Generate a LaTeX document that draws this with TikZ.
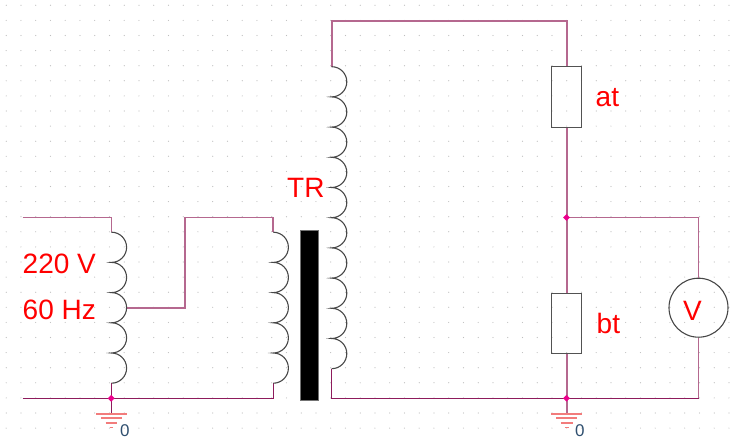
\documentclass[tikz,border=0pt]{standalone}
\usepackage{fontspec}
\setmainfont{Liberation Sans}
\usetikzlibrary{shapes.geometric,calc}
\definecolor{wirelight}{HTML}{B5688F}
\definecolor{wiredark}{HTML}{8E1B5C}
\definecolor{griddot}{HTML}{BEBEBE}
\definecolor{gndred}{HTML}{F27C7C}
\definecolor{labelblue}{HTML}{2F4F6F}
\tikzset{
  wire/.style={draw=wirelight,line width=1.7pt},
  wirebottom/.style={draw=wiredark,line width=1.3pt},
  coilline/.style={draw=black!72,line width=1.1pt},
  resbox/.style={draw=black!68,line width=1.4pt,minimum width=30pt,inner sep=0pt},
  meter/.style={circle,draw=black!72,line width=1.1pt,minimum size=59pt,inner sep=0pt},
  lbl/.style={text=red,font=\fontsize{28}{28}\selectfont,anchor=base west,inner sep=0pt},
  gndline/.style={draw=gndred,line width=1.5pt},
  gndlabel/.style={text=labelblue,font=\fontsize{17}{17}\selectfont,anchor=base west,inner sep=0pt},
  junct/.style={diamond,fill=magenta,inner sep=0pt,minimum size=7pt}
}
\newcommand{\coilat}[2]{% top point, number of turns
  \draw[coilline] (#1) \foreach \i in {1,...,#2} { arc[start angle=90,end angle=-90,radius=15.1pt] };
}
\newcommand{\gndat}[1]{%
  \draw[gndline] ($(#1)+(-15.5,0)$) -- ($(#1)+(15.5,0)$);
  \draw[gndline] ($(#1)+(-10.5,4.2)$) -- ($(#1)+(10.5,4.2)$);
  \draw[gndline] ($(#1)+(-5.8,9)$) -- ($(#1)+(5.8,9)$);
  \draw[gndline] ($(#1)+(-1.8,13.5)$) -- ($(#1)+(1.8,13.5)$);
}
\begin{document}
\begin{tikzpicture}[x=1pt,y=-1pt]
\useasboundingbox (0,0) rectangle (737,439);
% grid
\foreach \k in {0,...,49} \foreach \j in {0,...,28}
  \fill[griddot] (566.7-14.75*38+14.75*\k,5.3+15.1*\j) circle (0.6pt);
% coordinates
\coordinate (inTop) at (22.5,217.5);
\coordinate (inBot) at (22.5,398.3);
\coordinate (autoTop) at (111.5,232.2);
\coordinate (autoBot) at (111.5,383);
\coordinate (autoCornerTop) at (111.5,217.5);
\coordinate (tap) at (126.6,307.7);
\coordinate (tapCorner) at (185,307.7);
\coordinate (tapTop) at (185,217.5);
\coordinate (primCornerTop) at (273.3,217.5);
\coordinate (primTop) at (273.3,232.2);
\coordinate (primBot) at (273.3,383);
\coordinate (primCornerBot) at (273.3,398.3);
\coordinate (secTop) at (331.7,66.7);
\coordinate (secBot) at (331.7,369.2);
\coordinate (secCornerTop) at (331.7,21);
\coordinate (secCornerBot) at (331.7,398.3);
\coordinate (rightTop) at (566.7,21);
\coordinate (rightBot) at (698.5,398.3);
\coordinate (vCorner) at (698.5,217.5);
\coordinate (gndA) at (111.5,414);
\coordinate (gndB) at (566.7,414);
% component nodes
\node[resbox,minimum height=60.5pt] (at) at (566.7,97) {};
\node[resbox,minimum height=60pt] (bt) at (566.7,323.3) {};
\node[meter] (vm) at (698.5,307.7) {};
% wires
\draw[wire] (inTop) -- (autoCornerTop) -- (autoTop);
\draw[wire] (tap) -- (tapCorner) -- (tapTop) -- (primCornerTop) -- (primTop);
\draw[wire] (secTop) -- (secCornerTop) -- (rightTop) -- (at.north);
\draw[wire] (at.south) -- (bt.north);
\draw[wire] (566.7,217.5) -- (vCorner) -- (vm.north);
\draw[wire] (vm.south) -- (rightBot);
\draw[wire] (bt.south) -- (gndB);
\draw[wirebottom] (inBot) -- (primCornerBot) -- (primBot);
\draw[wirebottom] (autoBot) -- (gndA);
\draw[wirebottom] (secBot) -- (secCornerBot) -- (rightBot);
% junctions
\node[junct] (jA) at (111.2,398.3) {};
\node[junct] (jB) at (566.5,398.3) {};
\node[junct] (jC) at (566.5,217.5) {};
% coils
\coilat{autoTop}{5}
\coilat{primTop}{5}
\coilat{secTop}{10}
% core
\node[fill=black,draw=black!55,line width=0.8pt,minimum width=17.5pt,minimum height=169.5pt,inner sep=0pt] (core) at (309.5,315.2) {};
% grounds
\gndat{gndA}
\gndat{gndB}
% labels
\node[lbl] (l220) at (22.5,273.3) {220 V};
\node[lbl] (l60) at (22.5,319.3) {60 Hz};
\node[lbl] (lTR) at (287,197.3) {TR};
\node[lbl] (lat) at (595.5,106.7) {at};
\node[lbl] (lbt) at (596.5,333.3) {bt};
\node[lbl] (lV) at (682.8,320) {V};
\node[gndlabel] (z1) at (120,436) {0};
\node[gndlabel] (z2) at (575,436) {0};
\end{tikzpicture}
\end{document}
